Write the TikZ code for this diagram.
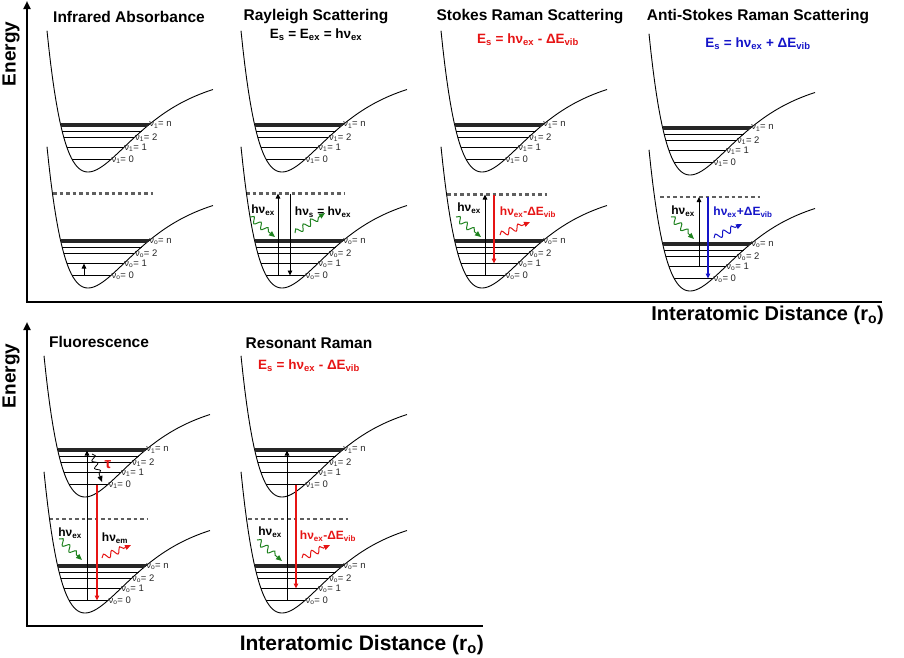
\documentclass[tikz,border=0pt]{standalone}
\usepackage{fontspec}
\setmainfont{Liberation Sans}
\usetikzlibrary{arrows.meta, decorations.pathmorphing}
\definecolor{stokesred}{RGB}{230, 20, 20}
\definecolor{antiblue}{RGB}{20, 20, 200}
\definecolor{photongreen}{RGB}{30, 130, 30}
\definecolor{virtgray}{RGB}{95, 95, 95}

\tikzset{
  pes/.style={black, line width=0.9pt},
  vlevel/.style={black, line width=1pt},
  vband/.style={black!85, line width=1.35pt},
  vlabel/.style={anchor=west, inner sep=0.5pt, font=\fontsize{9.5}{10}\selectfont, text=black!85},
  virtual/.style={virtgray, line width=2.2pt, dash pattern=on 3.5pt off 3pt},
  title/.style={font=\fontsize{15.5}{17}\selectfont\bfseries, inner sep=0pt},
  eqn/.style={font=\fontsize{13.5}{15}\selectfont\bfseries, inner sep=0pt},
  hv/.style={font=\fontsize{12}{14}\selectfont\bfseries, inner sep=0pt},
  trans/.style={line width=0.9pt, -{Triangle[length=5pt, width=4.5pt]}},
  photon/.style={line width=1pt, -{Triangle[length=6pt, width=5pt]}, decorate,
    decoration={snake, amplitude=3pt, segment length=9pt, post length=5pt}},
  axis/.style={line width=2.4pt},
  axlabel/.style={font=\fontsize{19}{21}\selectfont\bfseries, inner sep=0pt}
}

% one Morse well with its vibrational levels (#1 = vertical offset, #2 = state index)
\newcommand{\morsewell}[2]{%
  \begin{scope}[yshift=#1]
    \draw[pes] plot[domain=-41:125, samples=90] (\x, {100*(1-exp(-0.0191*\x))^2});
    \foreach \E in {12.5, 24.5, 34.5, 41}
      \draw[vlevel] ({-ln(1+sqrt(\E/100))/0.0191}, \E) -- ({-ln(1-sqrt(\E/100))/0.0191}, \E);
    \foreach \E in {45.5, 47, 48.5}
      \draw[vband] ({-ln(1+sqrt(\E/100))/0.0191}, \E) -- ({-ln(1-sqrt(\E/100))/0.0191}, \E);
    \foreach \E/\n in {12.5/0, 24.5/1, 34.5/2, 47/n}
      \node[vlabel] (lv#2\n) at ({-ln(1-sqrt(\E/100))/0.0191}, \E) {ν\textsubscript{#2}= \n};
  \end{scope}}

\begin{document}
\begin{tikzpicture}[x=1pt, y=1pt]
  \useasboundingbox (0,0) rectangle (904,-657);

  % Axes
  \draw[axis, -{Triangle[length=8pt, width=7pt]}] (27,-302) -- (27,-1);
  \draw[axis] (25.8,-302) -- (882,-302);
  \draw[axis, -{Triangle[length=8pt, width=7pt]}] (27,-626) -- (27,-322);
  \draw[axis] (25.8,-626) -- (483,-626);
  \node[axlabel, rotate=90] (en1) at (11,-54) {Energy};
  \node[axlabel, rotate=90] (en2) at (11,-376) {Energy};
  \node[axlabel, font=\fontsize{20}{22}\selectfont\bfseries, anchor=north east] (ia1) at (884,-306) {Interatomic Distance (r\textsubscript{o})};
  \node[axlabel, font=\fontsize{21}{23}\selectfont\bfseries, anchor=north east] (ia2) at (484,-635) {Interatomic Distance (r\textsubscript{o})};

  % Titles and equations
  \node[title] (tir) at (129,-17) {Infrared Absorbance};
  \node[title] (tray) at (316,-17) {Rayleigh Scattering};
  \node[title] (tsto) at (530,-17) {Stokes Raman Scattering};
  \node[title] (tanti) at (758,-17) {Anti-Stokes Raman Scattering};
  \node[eqn] (eqray) at (316,-35) {E\textsubscript{s} = E\textsubscript{ex} = hν\textsubscript{ex}};
  \node[eqn, text=stokesred] (eqsto) at (528,-40) {E\textsubscript{s} = hν\textsubscript{ex} - ΔE\textsubscript{vib}};
  \node[eqn, text=antiblue] (eqanti) at (758,-44) {E\textsubscript{s} = hν\textsubscript{ex} + ΔE\textsubscript{vib}};
  \node[title] (tfl) at (99,-342) {Fluorescence};
  \node[title] (trr) at (309,-343) {Resonant Raman};
  \node[eqn, text=stokesred] (eqrr) at (309,-366) {E\textsubscript{s} = hν\textsubscript{ex} - ΔE\textsubscript{vib}};

  % Infrared absorbance
  \begin{scope}[shift={(88,-172)}]
    \draw[virtual] (-35,-21.5) -- (65,-21.5);
    \morsewell{0}{1}
    \morsewell{-116}{o}
    \draw[trans] (-4,-103.5) -- (-4,-91.5);
  \end{scope}

  % Rayleigh scattering
  \begin{scope}[shift={(282,-172)}]
    \draw[virtual] (-36,-21.5) -- (63,-21.5);
    \morsewell{0}{1}
    \morsewell{-116}{o}
    \draw[trans] (-4,-103.5) -- (-4,-21.5);
    \draw[trans] (8,-21.5) -- (8,-103.5);
    \node[hv] (ray1) at (-19,-38) {hν\textsubscript{ex}};
    \draw[photon, photongreen] (-32,-45) -- (-7,-65);
    \node[hv] (ray2) at (41,-40) {hν\textsubscript{s} = hν\textsubscript{ex}};
    \draw[photon, photongreen] (13,-61) -- (43,-41);
  \end{scope}

  % Stokes Raman scattering
  \begin{scope}[shift={(482,-172)}]
    \draw[virtual] (-35,-22.5) -- (65,-22.5);
    \morsewell{0}{1}
    \morsewell{-116}{o}
    \draw[trans] (3,-103.5) -- (3,-22.5);
    \draw[trans, stokesred, line width=1.2pt] (12,-22.5) -- (12,-91.5);
    \node[hv] (sto1) at (-13,-36) {hν\textsubscript{ex}};
    \draw[photon, photongreen] (-26,-45) -- (-1,-65);
    \node[hv, text=stokesred] (sto2) at (46,-40) {hν\textsubscript{ex}-ΔE\textsubscript{vib}};
    \draw[photon, stokesred] (18,-63) -- (48,-50);
  \end{scope}

  % Anti-Stokes Raman scattering
  \begin{scope}[shift={(690,-175)}]
    \draw[virtual] (-30,-22) -- (70,-22);
    \morsewell{0}{1}
    \morsewell{-116}{o}
    \draw[trans] (9,-91.5) -- (9,-22);
    \draw[trans, antiblue, line width=1.2pt] (18,-22) -- (18,-103.5);
    \node[hv] (ant1) at (-7,-36) {hν\textsubscript{ex}};
    \draw[photon, photongreen] (-19,-42) -- (4,-64);
    \node[hv, text=antiblue] (ant2) at (53,-37) {hν\textsubscript{ex}+ΔE\textsubscript{vib}};
    \draw[photon, antiblue] (24,-63) -- (52,-49);
  \end{scope}

  % Fluorescence
  \begin{scope}[shift={(85,-497)}]
    \draw[virtual] (-36,-22) -- (63,-22);
    \morsewell{0}{1}
    \morsewell{-116}{o}
    \draw[trans] (2,-103.5) -- (2,46.5);
    \draw[photon, line width=0.8pt, decoration={snake, amplitude=2.5pt, segment length=8pt, post length=5pt}] (7,43) -- (17,15);
    \node[hv, font=\fontsize{15}{16}\selectfont\bfseries, text=stokesred] (tau) at (23,32) {τ};
    \draw[trans, stokesred, line width=1.2pt] (12,12.5) -- (12,-103.5);
    \node[hv] (fl1) at (-15,-36) {hν\textsubscript{ex}};
    \draw[photon, photongreen] (-26,-42) -- (-3,-63);
    \node[hv] (fl2) at (30,-41) {hν\textsubscript{em}};
    \draw[photon, stokesred] (17,-61) -- (46,-48);
  \end{scope}

  % Resonant Raman
  \begin{scope}[shift={(282,-497)}]
    \draw[virtual] (-34,-22) -- (66,-22);
    \morsewell{0}{1}
    \morsewell{-116}{o}
    \draw[trans] (5,-103.5) -- (5,46.5);
    \draw[trans, stokesred, line width=1.2pt] (14,12.5) -- (14,-91.5);
    \node[hv] (rr1) at (-12,-35) {hν\textsubscript{ex}};
    \draw[photon, photongreen] (-25,-43) -- (0,-64);
    \node[hv, text=stokesred] (rr2) at (46,-39) {hν\textsubscript{ex}-ΔE\textsubscript{vib}};
    \draw[photon, stokesred] (20,-61) -- (48,-48);
  \end{scope}
\end{tikzpicture}
\end{document}
